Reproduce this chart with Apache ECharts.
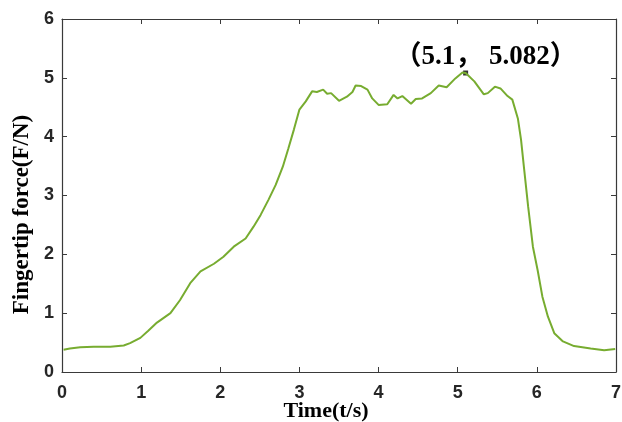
<!DOCTYPE html>
<html>
<head>
    <meta charset="UTF-8">
    <title>Fingertip force</title>
    <script type="text/javascript" src="https://cdn.jsdelivr.net/npm/echarts@6/dist/echarts.min.js"></script>
    <style>
        *{margin:0;padding:0}
        html,body{width:100%;height:100%;background:#fff}
        #main{width:622px;height:422px}
    </style>
</head>
<body>
<div id="main"></div>
<script type="text/javascript">
    // 时间 (s)
    var timeData = [0.02, 0.10, 0.23, 0.40, 0.61, 0.78, 0.86, 0.99, 1.09, 1.20,
        1.37, 1.49, 1.62, 1.75, 1.92, 2.04, 2.17, 2.32, 2.42, 2.51,
        2.61, 2.70, 2.79, 2.86, 2.93, 3.00, 3.08, 3.16, 3.22, 3.30,
        3.35, 3.40, 3.50, 3.60, 3.67, 3.71, 3.78, 3.86, 3.92, 4.00,
        4.11, 4.19, 4.24, 4.30, 4.41, 4.47, 4.55, 4.66, 4.76, 4.86,
        4.97, 5.06, 5.10, 5.21, 5.33, 5.38, 5.47, 5.54, 5.63, 5.69,
        5.76, 5.80, 5.84, 5.89, 5.95, 6.01, 6.07, 6.14, 6.22, 6.33,
        6.47, 6.68, 6.85, 6.99];
    // 指尖力 (N)
    var forceData = [0.38, 0.40, 0.42, 0.43, 0.43, 0.45, 0.49, 0.58, 0.70, 0.84,
        1.00, 1.22, 1.51, 1.71, 1.84, 1.96, 2.13, 2.27, 2.47, 2.67,
        2.93, 3.18, 3.49, 3.80, 4.12, 4.46, 4.60, 4.77, 4.76, 4.80,
        4.73, 4.74, 4.61, 4.68, 4.76, 4.87, 4.86, 4.80, 4.65, 4.54,
        4.55, 4.71, 4.65, 4.69, 4.56, 4.64, 4.65, 4.74, 4.87, 4.84,
        4.99, 5.09, 5.082, 4.94, 4.72, 4.74, 4.85, 4.82, 4.69, 4.63,
        4.31, 3.95, 3.44, 2.81, 2.13, 1.73, 1.28, 0.94, 0.66, 0.52,
        0.44, 0.40, 0.37, 0.39];
    // 峰值点
    var peakPoint = [5.1, 5.082];
    var peakLabel = '（5.1， 5.082）';

    var lineData = timeData.map(function (t, i) { return [t, forceData[i]]; });

    var axisColor = '#3a3a3a';
    var tickLabel = {fontSize: 18, fontWeight: 'bold', color: '#262626', fontFamily: "'Liberation Sans', Arial"};

    function boxAxis(pos, type) {
        return {
            type: 'value', position: pos,
            min: 0, max: type === 'x' ? 7 : 6, interval: 1,
            axisLine: {show: true, onZero: false, lineStyle: {color: axisColor, width: 1.2}},
            axisTick: {show: true, inside: true, length: 5, lineStyle: {color: axisColor}},
            axisLabel: {show: false},
            splitLine: {show: false}
        };
    }

    var option = {
        animation: false,
        backgroundColor: '#fff',
        grid: {left: 62, right: 6, top: 19, bottom: 50, containLabel: false, outerBoundsMode: 'none'},
        xAxis: [{
            type: 'value', position: 'bottom',
            min: 0, max: 7, interval: 1,
            name: 'Time(t/s)', nameLocation: 'middle', nameGap: 28, nameMoveOverlap: false,
            nameTextStyle: {
                fontSize: 22, fontWeight: 'bold', color: '#000',
                fontFamily: "'Liberation Serif', 'Times New Roman'",
                padding: [0, 26, 0, 0]
            },
            axisLine: {show: true, onZero: false, lineStyle: {color: axisColor, width: 1.2}},
            axisTick: {show: true, inside: true, length: 5, lineStyle: {color: axisColor}},
            axisLabel: Object.assign({margin: 12}, tickLabel),
            splitLine: {show: false}
        }, boxAxis('top', 'x')],
        yAxis: [{
            type: 'value', position: 'left',
            min: 0, max: 6, interval: 1,
            name: 'Fingertip force(F/N)', nameLocation: 'middle', nameGap: 28, nameMoveOverlap: false,
            nameTextStyle: {
                fontSize: 23, fontWeight: 'bold', color: '#000',
                fontFamily: "'Liberation Serif', 'Times New Roman'",
                padding: [0, 38, 0, 0]
            },
            axisLine: {show: true, onZero: false, lineStyle: {color: axisColor, width: 1.2}},
            axisTick: {show: true, inside: true, length: 5, lineStyle: {color: axisColor}},
            axisLabel: Object.assign({margin: 8}, tickLabel),
            splitLine: {show: false}
        }, boxAxis('right', 'y')],
        series: [
            {
                name: 'force',
                type: 'line',
                data: lineData,
                showSymbol: false,
                lineStyle: {color: '#77ac30', width: 2}
            },
            {
                name: 'peak',
                type: 'scatter',
                data: [peakPoint],
                symbol: 'rect',
                symbolSize: 5,
                itemStyle: {color: '#000'},
                label: {
                    show: true,
                    position: 'top',
                    offset: [20, 5],
                    formatter: peakLabel,
                    fontSize: 27,
                    fontWeight: 'bold',
                    color: '#000',
                    opacity: 1,
                    textBorderWidth: 0,
                    fontFamily: "'Liberation Serif', 'Noto Sans CJK SC'"
                }
            }
        ]
    };

    var myChart = echarts.init(document.getElementById('main'));
    myChart.setOption(option);
</script>
</body>
</html>
